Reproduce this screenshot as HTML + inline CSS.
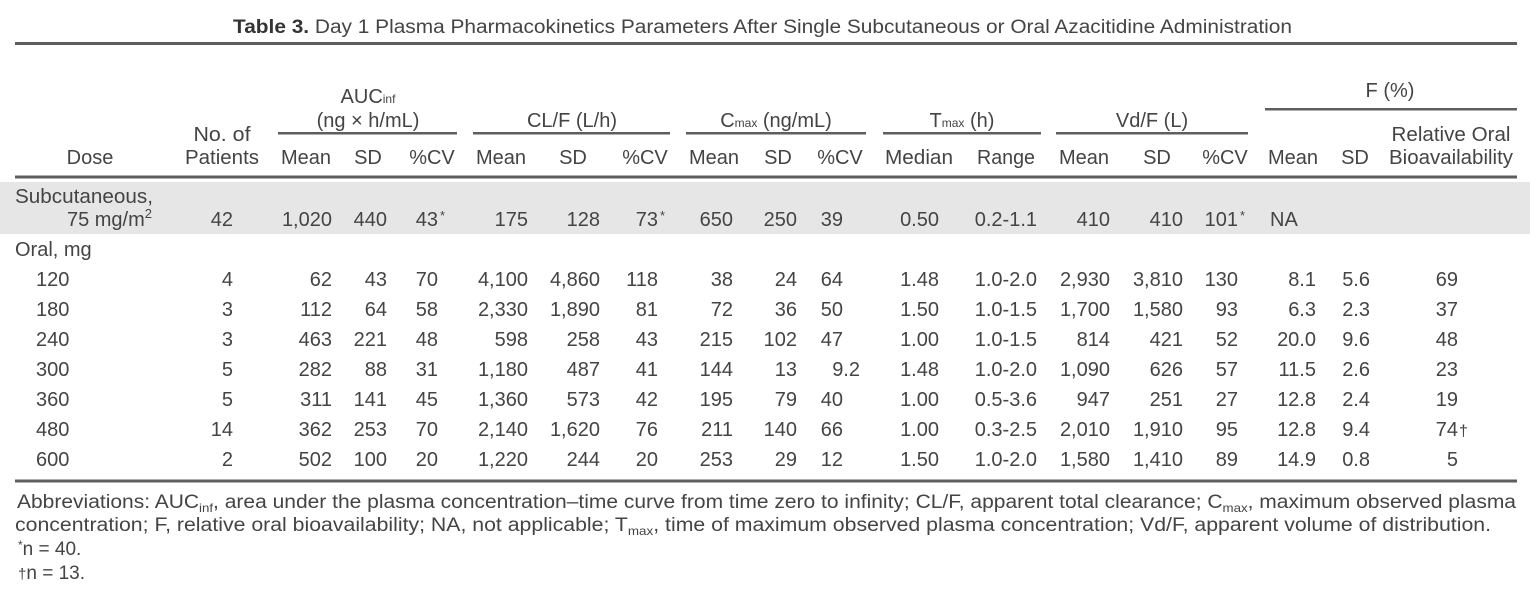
<!DOCTYPE html>
<html>
<head>
<meta charset="utf-8">
<style>
  html,body{margin:0;padding:0;background:#fff;}
  svg{display:block;}
  text{font-family:"Liberation Sans", Arial, sans-serif;fill:#444;}
</style>
</head>
<body>
<svg width="1530" height="609" viewBox="0 0 1530 609" xmlns="http://www.w3.org/2000/svg">
  <rect x="0" y="0" width="1530" height="609" fill="#fff"/>

  <!-- Title -->
  <text x="233" y="33" font-size="19" textLength="1059" lengthAdjust="spacingAndGlyphs"><tspan font-weight="bold" fill="#333">Table 3.</tspan> Day 1 Plasma Pharmacokinetics Parameters After Single Subcutaneous or Oral Azacitidine Administration</text>

  <!-- Rules -->
  <rect x="15" y="42" width="1502" height="3" fill="#5e5e5e"/>
  <rect x="1265" y="108" width="252" height="2.5" fill="#5e5e5e"/>
  <rect x="278" y="132" width="179" height="2.5" fill="#5e5e5e"/>
  <rect x="473" y="132" width="197" height="2.5" fill="#5e5e5e"/>
  <rect x="686" y="132" width="180" height="2.5" fill="#5e5e5e"/>
  <rect x="883" y="132" width="158" height="2.5" fill="#5e5e5e"/>
  <rect x="1056" y="132" width="192" height="2.5" fill="#5e5e5e"/>
  <rect x="15" y="175.5" width="1502" height="3" fill="#5e5e5e"/>
  <rect x="0" y="182" width="1530" height="52" fill="#e6e6e6"/>
  <rect x="15" y="479.5" width="1502" height="3" fill="#5e5e5e"/>

  <!-- Group headers -->
  <g font-size="20" text-anchor="middle">
    <text x="368" y="103">AUC<tspan font-size="12">inf</tspan></text>
    <text x="368" y="127">(ng × h/mL)</text>
    <text x="572" y="127">CL/F (L/h)</text>
    <text x="776" y="127">C<tspan font-size="12">max</tspan> (ng/mL)</text>
    <text x="962" y="127">T<tspan font-size="12">max</tspan> (h)</text>
    <text x="1152" y="127">Vd/F (L)</text>
    <text x="1390" y="97">F (%)</text>
    <text x="222" y="141" textLength="57" lengthAdjust="spacingAndGlyphs">No. of</text>
    <text x="1451" y="141" textLength="119" lengthAdjust="spacingAndGlyphs">Relative Oral</text>
  </g>

  <!-- Column headers -->
  <g font-size="20" text-anchor="middle">
    <text x="90" y="164">Dose</text>
    <text x="222" y="164" textLength="74" lengthAdjust="spacingAndGlyphs">Patients</text>
    <text x="306" y="164">Mean</text>
    <text x="368" y="164">SD</text>
    <text x="432" y="164">%CV</text>
    <text x="501" y="164">Mean</text>
    <text x="573" y="164">SD</text>
    <text x="645" y="164">%CV</text>
    <text x="714" y="164">Mean</text>
    <text x="778" y="164">SD</text>
    <text x="840" y="164">%CV</text>
    <text x="919" y="164" textLength="68" lengthAdjust="spacingAndGlyphs">Median</text>
    <text x="1006" y="164" textLength="58" lengthAdjust="spacingAndGlyphs">Range</text>
    <text x="1084" y="164">Mean</text>
    <text x="1157" y="164">SD</text>
    <text x="1225" y="164">%CV</text>
    <text x="1293" y="164">Mean</text>
    <text x="1355" y="164">SD</text>
    <text x="1451" y="164" textLength="124" lengthAdjust="spacingAndGlyphs">Bioavailability</text>
  </g>

  <!-- Subcutaneous row -->
  <text x="15" y="203" font-size="20" textLength="138" lengthAdjust="spacingAndGlyphs">Subcutaneous,</text>
  <text x="152" y="226" font-size="20" text-anchor="end">75 mg/m<tspan font-size="13" dy="-8">2</tspan></text>
  <g font-size="20" text-anchor="end">
    <text x="233" y="226">42</text>
    <text x="332" y="226">1,020</text>
    <text x="387" y="226">440</text>
    <text x="438" y="226">43</text>
    <text x="528" y="226">175</text>
    <text x="600" y="226">128</text>
    <text x="658" y="226">73</text>
    <text x="733" y="226">650</text>
    <text x="797" y="226">250</text>
    <text x="843" y="226">39</text>
    <text x="939" y="226">0.50</text>
    <text x="1037" y="226">0.2-1.1</text>
    <text x="1110" y="226">410</text>
    <text x="1183" y="226">410</text>
    <text x="1238" y="226">101</text>
  </g>
  <g font-size="13">
    <text x="440" y="220">*</text>
    <text x="660" y="220">*</text>
    <text x="1240" y="220">*</text>
  </g>
  <text x="1270" y="226" font-size="20">NA</text>

  <!-- Oral header -->
  <text x="15" y="256" font-size="20">Oral, mg</text>

  <!-- Dose labels -->
  <g font-size="20">
    <text x="36" y="286">120</text>
    <text x="36" y="316">180</text>
    <text x="36" y="346">240</text>
    <text x="36" y="376">300</text>
    <text x="36" y="406">360</text>
    <text x="36" y="436">480</text>
    <text x="36" y="466">600</text>
  </g>

  <!-- Row 120 -->
  <g font-size="20" text-anchor="end">
    <text x="233" y="286">4</text>
    <text x="332" y="286">62</text>
    <text x="387" y="286">43</text>
    <text x="438" y="286">70</text>
    <text x="528" y="286">4,100</text>
    <text x="600" y="286">4,860</text>
    <text x="658" y="286">118</text>
    <text x="733" y="286">38</text>
    <text x="797" y="286">24</text>
    <text x="843" y="286">64</text>
    <text x="939" y="286">1.48</text>
    <text x="1037" y="286">1.0-2.0</text>
    <text x="1110" y="286">2,930</text>
    <text x="1183" y="286">3,810</text>
    <text x="1238" y="286">130</text>
    <text x="1316" y="286">8.1</text>
    <text x="1370" y="286">5.6</text>
    <text x="1458" y="286">69</text>
  </g>

  <!-- Row 180 -->
  <g font-size="20" text-anchor="end">
    <text x="233" y="316">3</text>
    <text x="332" y="316">112</text>
    <text x="387" y="316">64</text>
    <text x="438" y="316">58</text>
    <text x="528" y="316">2,330</text>
    <text x="600" y="316">1,890</text>
    <text x="658" y="316">81</text>
    <text x="733" y="316">72</text>
    <text x="797" y="316">36</text>
    <text x="843" y="316">50</text>
    <text x="939" y="316">1.50</text>
    <text x="1037" y="316">1.0-1.5</text>
    <text x="1110" y="316">1,700</text>
    <text x="1183" y="316">1,580</text>
    <text x="1238" y="316">93</text>
    <text x="1316" y="316">6.3</text>
    <text x="1370" y="316">2.3</text>
    <text x="1458" y="316">37</text>
  </g>

  <!-- Row 240 -->
  <g font-size="20" text-anchor="end">
    <text x="233" y="346">3</text>
    <text x="332" y="346">463</text>
    <text x="387" y="346">221</text>
    <text x="438" y="346">48</text>
    <text x="528" y="346">598</text>
    <text x="600" y="346">258</text>
    <text x="658" y="346">43</text>
    <text x="733" y="346">215</text>
    <text x="797" y="346">102</text>
    <text x="843" y="346">47</text>
    <text x="939" y="346">1.00</text>
    <text x="1037" y="346">1.0-1.5</text>
    <text x="1110" y="346">814</text>
    <text x="1183" y="346">421</text>
    <text x="1238" y="346">52</text>
    <text x="1316" y="346">20.0</text>
    <text x="1370" y="346">9.6</text>
    <text x="1458" y="346">48</text>
  </g>

  <!-- Row 300 -->
  <g font-size="20" text-anchor="end">
    <text x="233" y="376">5</text>
    <text x="332" y="376">282</text>
    <text x="387" y="376">88</text>
    <text x="438" y="376">31</text>
    <text x="528" y="376">1,180</text>
    <text x="600" y="376">487</text>
    <text x="658" y="376">41</text>
    <text x="733" y="376">144</text>
    <text x="797" y="376">13</text>
    <text x="860" y="376">9.2</text>
    <text x="939" y="376">1.48</text>
    <text x="1037" y="376">1.0-2.0</text>
    <text x="1110" y="376">1,090</text>
    <text x="1183" y="376">626</text>
    <text x="1238" y="376">57</text>
    <text x="1316" y="376">11.5</text>
    <text x="1370" y="376">2.6</text>
    <text x="1458" y="376">23</text>
  </g>

  <!-- Row 360 -->
  <g font-size="20" text-anchor="end">
    <text x="233" y="406">5</text>
    <text x="332" y="406">311</text>
    <text x="387" y="406">141</text>
    <text x="438" y="406">45</text>
    <text x="528" y="406">1,360</text>
    <text x="600" y="406">573</text>
    <text x="658" y="406">42</text>
    <text x="733" y="406">195</text>
    <text x="797" y="406">79</text>
    <text x="843" y="406">40</text>
    <text x="939" y="406">1.00</text>
    <text x="1037" y="406">0.5-3.6</text>
    <text x="1110" y="406">947</text>
    <text x="1183" y="406">251</text>
    <text x="1238" y="406">27</text>
    <text x="1316" y="406">12.8</text>
    <text x="1370" y="406">2.4</text>
    <text x="1458" y="406">19</text>
  </g>

  <!-- Row 480 -->
  <g font-size="20" text-anchor="end">
    <text x="233" y="436">14</text>
    <text x="332" y="436">362</text>
    <text x="387" y="436">253</text>
    <text x="438" y="436">70</text>
    <text x="528" y="436">2,140</text>
    <text x="600" y="436">1,620</text>
    <text x="658" y="436">76</text>
    <text x="733" y="436">211</text>
    <text x="797" y="436">140</text>
    <text x="843" y="436">66</text>
    <text x="939" y="436">1.00</text>
    <text x="1037" y="436">0.3-2.5</text>
    <text x="1110" y="436">2,010</text>
    <text x="1183" y="436">1,910</text>
    <text x="1238" y="436">95</text>
    <text x="1316" y="436">12.8</text>
    <text x="1370" y="436">9.4</text>
    <text x="1458" y="436">74</text>
  </g>
  <text x="1459" y="436" font-size="16">†</text>

  <!-- Row 600 -->
  <g font-size="20" text-anchor="end">
    <text x="233" y="466">2</text>
    <text x="332" y="466">502</text>
    <text x="387" y="466">100</text>
    <text x="438" y="466">20</text>
    <text x="528" y="466">1,220</text>
    <text x="600" y="466">244</text>
    <text x="658" y="466">20</text>
    <text x="733" y="466">253</text>
    <text x="797" y="466">29</text>
    <text x="843" y="466">12</text>
    <text x="939" y="466">1.50</text>
    <text x="1037" y="466">1.0-2.0</text>
    <text x="1110" y="466">1,580</text>
    <text x="1183" y="466">1,410</text>
    <text x="1238" y="466">89</text>
    <text x="1316" y="466">14.9</text>
    <text x="1370" y="466">0.8</text>
    <text x="1458" y="466">5</text>
  </g>

  <!-- Footnotes -->
  <text x="17" y="508" font-size="19" textLength="1499" lengthAdjust="spacingAndGlyphs">Abbreviations: AUC<tspan font-size="12" dy="4">inf</tspan><tspan dy="-4">, area under the plasma concentration–time curve from time zero to infinity; CL/F, apparent total clearance; C</tspan><tspan font-size="12" dy="4">max</tspan><tspan dy="-4">, maximum observed plasma</tspan></text>
  <text x="15" y="531" font-size="19" textLength="1476" lengthAdjust="spacingAndGlyphs">concentration; F, relative oral bioavailability; NA, not applicable; T<tspan font-size="12" dy="4">max</tspan><tspan dy="-4">, time of maximum observed plasma concentration; Vd/F, apparent volume of distribution.</tspan></text>
  <text x="18" y="555" font-size="19"><tspan font-size="12" dy="-6">*</tspan><tspan dy="6">n = 40.</tspan></text>
  <text x="18" y="579" font-size="19"><tspan font-size="15">†</tspan>n = 13.</text>
</svg>
</body>
</html>
